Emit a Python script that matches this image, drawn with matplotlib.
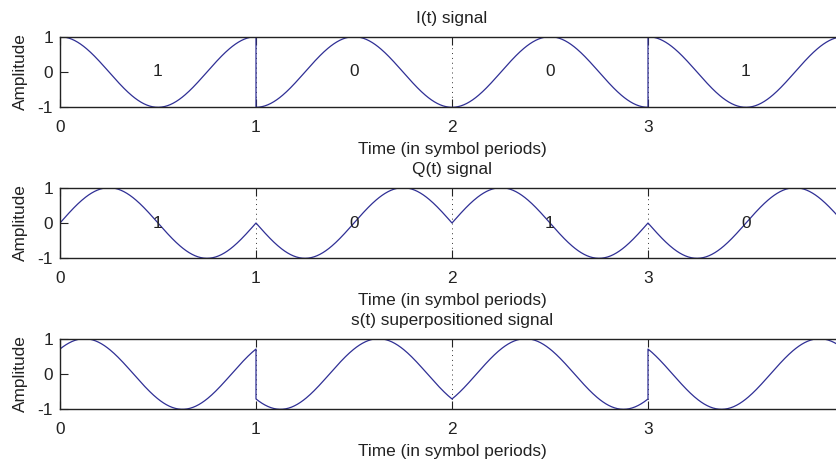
"""I/Q components and the superpositioned signal, one symbol per period."""

import matplotlib
matplotlib.use("Agg")
import matplotlib.pyplot as plt
import numpy as np

# bits carried by each branch, one per symbol period
i_bits = [1, 0, 0, 1]
q_bits = [1, 0, 1, 0]

titles = ["I(t) signal", "Q(t) signal", "s(t) superpositioned signal"]
x_ticks = [0, 1, 2, 3]
y_ticks = [-1, 0, 1]
y_ticklabels = ["-1", "0", "1"]

LINE = "#2f2f95"
INK = "#222222"
FS = 12.4
plt.rcParams["font.family"] = ["Liberation Sans", "DejaVu Sans"]
plt.rcParams["font.size"] = FS


def waveform(bits, carrier):
    t_all, y_all = [], []
    for k, b in enumerate(bits):
        t = np.linspace(k, k + 1, 200)
        t_all.append(t)
        y_all.append((2 * b - 1) * carrier(2 * np.pi * t))
    return np.concatenate(t_all), np.concatenate(y_all)


t, i_sig = waveform(i_bits, np.cos)
_, q_sig = waveform(q_bits, np.sin)
s_sig = (i_sig + q_sig) / np.sqrt(2)

fig = plt.figure(figsize=(8.37, 4.62), dpi=100)
left, width, height = 60 / 837, 784 / 837, 70.6 / 462
bottoms = [1 - 107.3 / 462, 1 - 258.3 / 462, 1 - 409.3 / 462]

signals = [i_sig, q_sig, s_sig]
bit_labels = [i_bits, q_bits, None]

for bottom, sig, title, bits in zip(bottoms, signals, titles, bit_labels):
    ax = fig.add_axes([left, bottom, width, height])
    ax.plot(t, sig, color=LINE, linewidth=0.9)
    ax.set_xlim(0, 4)
    ax.set_ylim(-1, 1)
    ax.set_xticks(x_ticks)
    ax.set_yticks(y_ticks)
    ax.set_yticklabels(y_ticklabels)
    for xv in x_ticks[1:]:
        ax.axvline(xv, color="#333333", linestyle=(0, (1, 4)), linewidth=0.7, zorder=0)
    ax.tick_params(direction="in", top=True, right=True, length=6, width=0.8,
                   colors=INK, labelsize=FS)
    ax.tick_params(axis="x", pad=9)
    ax.tick_params(axis="y", pad=5)
    for sp in ax.spines.values():
        sp.set_linewidth(1.0)
        sp.set_color(INK)
    ax.set_title(title, fontsize=FS, pad=10, color=INK)
    ax.set_xlabel("Time (in symbol periods)", fontsize=FS, labelpad=5.5, color=INK)
    ax.set_ylabel("Amplitude", fontsize=FS, labelpad=7, color=INK)
    if bits is not None:
        for k, b in enumerate(bits):
            ax.text(k + 0.5, 0, str(b), ha="center", va="center", color=INK, fontsize=FS)

fig.savefig("out.png", dpi=100)
